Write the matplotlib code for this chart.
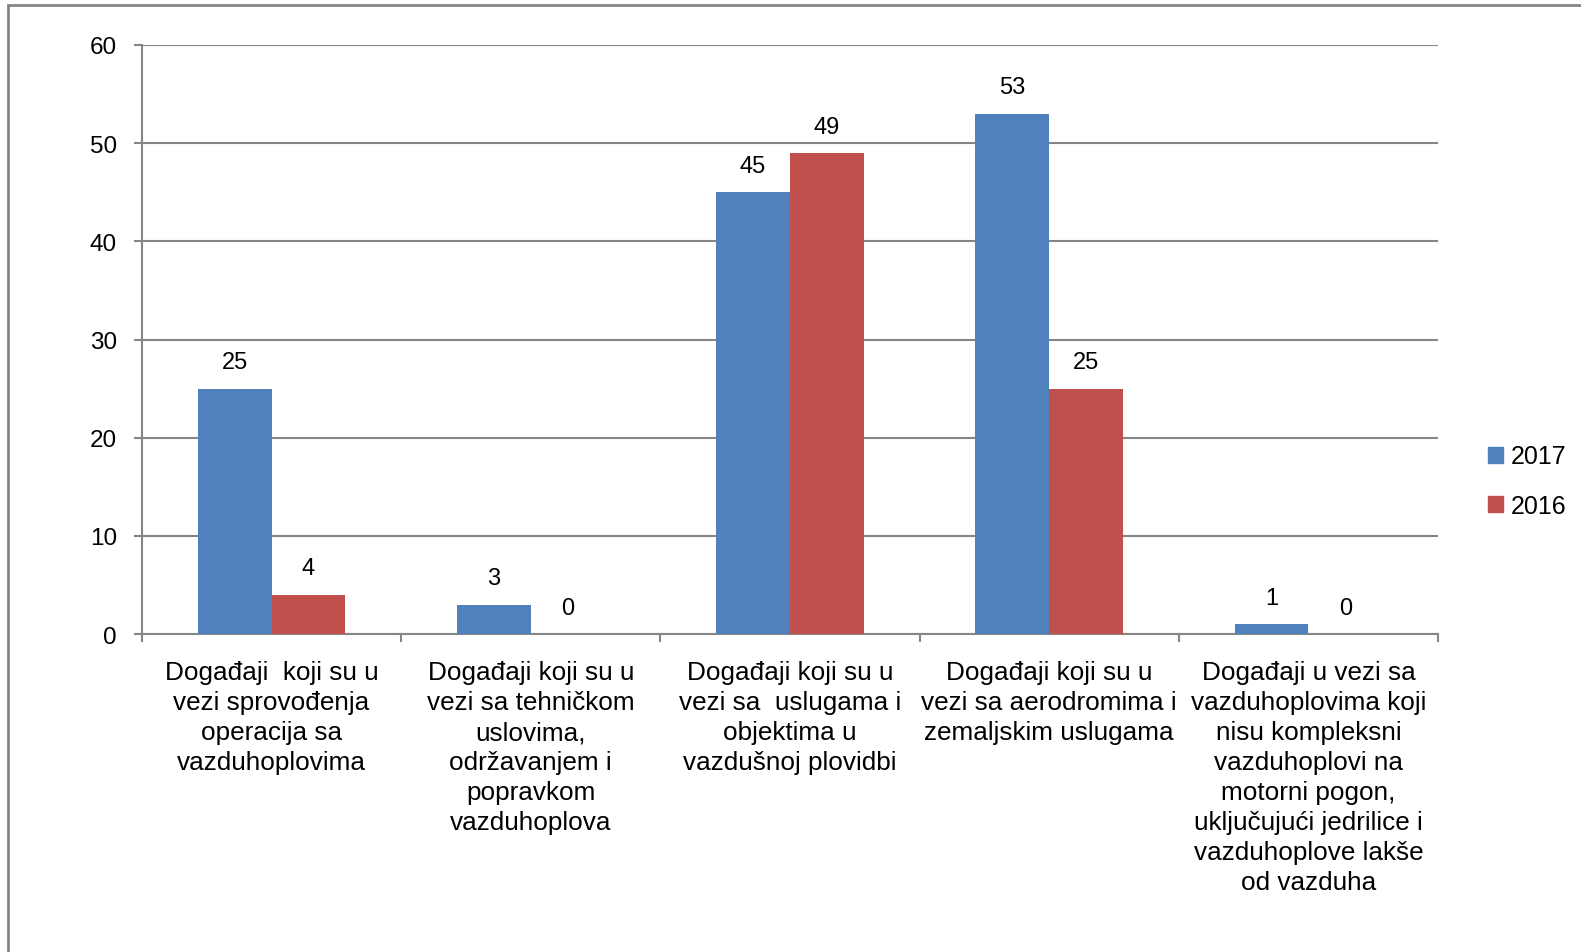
import matplotlib
matplotlib.use("Agg")
import matplotlib.pyplot as plt
from matplotlib.patches import Rectangle, Patch
import numpy as np

plt.rcParams['font.family'] = ['Liberation Sans', 'DejaVu Sans']

categories = [
    "Događaji  koji su u\nvezi sprovođenja\noperacija sa\nvazduhoplovima",
    "Događaji koji su u\nvezi sa tehničkom\nuslovima,\nodržavanjem i\npopravkom\nvazduhoplova",
    "Događaji koji su u\nvezi sa  uslugama i\nobjektima u\nvazdušnoj plovidbi",
    "Događaji koji su u\nvezi sa aerodromima i\nzemaljskim uslugama",
    "Događaji u vezi sa\nvazduhoplovima koji\nnisu kompleksni\nvazduhoplovi na\nmotorni pogon,\nuključujući jedrilice i\nvazduhoplove lakše\nod vazduha",
]
series_names = ["2017", "2016"]
values_2017 = [25, 3, 45, 53, 1]
values_2016 = [4, 0, 49, 25, 0]
yticks = [0, 10, 20, 30, 40, 50, 60]

blue = "#4F81BD"
red = "#C0504D"
gray = "#868686"

W, H = 1581, 953
fig = plt.figure(figsize=(W / 100, H / 100), dpi=100)
ax = fig.add_axes([142 / W, 1 - 635 / H, (1438 - 142) / W, (635 - 46) / H])

x = np.arange(len(categories)) + 0.5
bw = 0.285
b1 = ax.bar(x - bw / 2, values_2017, bw, color=blue, label=series_names[0], zorder=3)
b2 = ax.bar(x + bw / 2, values_2016, bw, color=red, label=series_names[1], zorder=3)

for bars, vals in ((b1, values_2017), (b2, values_2016)):
    for r, v in zip(bars, vals):
        ax.annotate(str(v), (r.get_x() + r.get_width() / 2, v),
                    xytext=(0, 19), textcoords="offset points",
                    ha="center", va="center", fontsize=17, color="black")

ax.set_xlim(0, len(categories))
ax.set_ylim(0, 60)
ax.set_yticks(yticks)
ax.set_yticklabels([str(t) for t in yticks], fontsize=17.5)
ax.yaxis.grid(True, color=gray, linewidth=1.5, zorder=0)
ax.set_axisbelow(True)

ax.set_xticks(np.arange(len(categories) + 1))
ax.set_xticklabels([])
ax.set_xticks(x, minor=True)
ax.set_xticklabels(categories, minor=True, fontsize=18.8, linespacing=1.31)
ax.tick_params(axis='x', which='minor', length=0, pad=19)
ax.tick_params(axis='x', which='major', length=6, width=1.5, color=gray, direction='out')
ax.tick_params(axis='y', length=6, width=1.5, color=gray, direction='out', pad=12)

for s in ['top', 'right']:
    ax.spines[s].set_visible(False)
for s in ['left', 'bottom']:
    ax.spines[s].set_color(gray)
    ax.spines[s].set_linewidth(1.5)

fig.legend(handles=[Patch(color=blue, label=series_names[0]),
                    Patch(color=red, label=series_names[1])],
           loc='center left', bbox_to_anchor=(1488 / W, 1 - 482 / H),
           frameon=False, fontsize=18, handlelength=0.6, handleheight=0.6,
           handletextpad=0.3, labelspacing=1.0, borderpad=0, borderaxespad=0)

fig.add_artist(Rectangle((8 / W, -0.1), 2, (1 - 6 / H) + 0.1, transform=fig.transFigure,
                         fill=False, ec=gray, lw=2))

fig.savefig("out.png", dpi=100)
